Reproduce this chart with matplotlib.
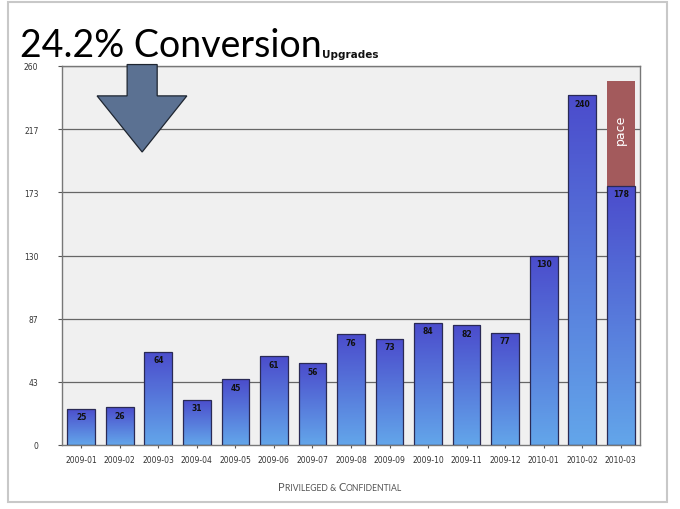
"""
Recreate '24.2% Conversion' upgrades bar chart slide.
"""
import matplotlib
matplotlib.use('Agg')
import matplotlib.pyplot as plt
from matplotlib.patches import Rectangle, Polygon
from matplotlib.offsetbox import TextArea, HPacker, AnnotationBbox
import numpy as np

months = ['2009-01', '2009-02', '2009-03', '2009-04', '2009-05', '2009-06',
          '2009-07', '2009-08', '2009-09', '2009-10', '2009-11', '2009-12',
          '2010-01', '2010-02', '2010-03']
upgrades = [25, 26, 64, 31, 45, 61, 56, 76, 73, 84, 82, 77, 130, 240, 178]
pace_top = 250   # projected month-end value for 2010-03
y_max = 260

fig = plt.figure(figsize=(6.8, 5.1), dpi=100)
fig.patch.set_facecolor('white')

# slide frame
fig.patches.append(Rectangle((8 / 680, 7 / 510), 659 / 680, 500 / 510,
                             transform=fig.transFigure, fill=False,
                             ec='#c8c8c8', lw=1.5))

ax = fig.add_axes([62 / 680, 64 / 510, 578 / 680, 379 / 510])
ax.set_facecolor('#f0f0f0')
ax.set_xlim(-0.5, len(months) - 0.5)
ax.set_ylim(0, y_max)

ticks = np.linspace(0, y_max, 7)
ax.set_yticks(ticks)
ax.set_yticklabels([f'{t:.0f}' for t in ticks], fontsize=5.5, color='#333333')
ax.set_xticks(range(len(months)))
ax.set_xticklabels(months, fontsize=5.5, color='#333333')
ax.tick_params(axis='x', length=2, color='#555555', pad=5)
ax.tick_params(axis='y', length=3, color='#555555', pad=14)
for t in ticks[1:]:
    ax.axhline(t, color='#666666', lw=0.9, zorder=1)
for s in ax.spines.values():
    s.set_color('#777777')
    s.set_linewidth(1.0)

# vertical gradient: dark blue top -> light blue bottom
grad = np.linspace(0, 1, 256).reshape(-1, 1)
cmap = matplotlib.colors.LinearSegmentedColormap.from_list(
    'bars', ['#63a6ea', '#4b4ccc'])
w = 0.72
for i, v in enumerate(upgrades):
    x0 = i - w / 2
    im = ax.imshow(grad, cmap=cmap, origin='lower', aspect='auto',
                   extent=(x0, x0 + w, 0, v), zorder=2)
    rect = Rectangle((x0, 0), w, v, fill=False, ec='#2a2a55', lw=0.9, zorder=3)
    ax.add_patch(rect)
    im.set_clip_path(rect)
    ax.text(i, v - 5.5, str(v), ha='center', va='center', fontsize=5.5,
            fontweight='bold', color='#111111', zorder=4)

# pace extension on last bar
last = len(months) - 1
ax.add_patch(Rectangle((last - w / 2, upgrades[-1]), w, pace_top - upgrades[-1],
                       fc='#a35a5c', ec='none', zorder=2))
ax.text(last, 217, 'pace', rotation=90,
        ha='center', va='center', fontsize=9, color='white', zorder=4)

# down arrow
arrow = Polygon([(1.19, 261), (1.97, 261), (1.97, 239.5), (2.74, 239.5),
                 (1.58, 201), (0.41, 239.5), (1.19, 239.5)],
                closed=True, fc='#5b7192', ec='#1e2530', lw=0.9,
                zorder=5, clip_on=False)
ax.add_patch(arrow)

# title
fig.text(20 / 680, 1 - 57 / 510, '24.2% Conversion', fontsize=27,
         family='Lato', color='black', va='baseline')
fig.text(322 / 680, 1 - 58 / 510, 'Upgrades', fontsize=7.5,
         fontweight='bold', color='#111111', va='baseline')

# footer in small caps
big = dict(size=8, family='Lato', color='#555555')
small = dict(size=6.2, family='Lato', color='#555555')
parts = [TextArea('P', textprops=big), TextArea('RIVILEGED & ', textprops=small),
         TextArea('C', textprops=big), TextArea('ONFIDENTIAL', textprops=small)]
footer = HPacker(children=parts, align='baseline', pad=0, sep=0)
fig.add_artist(AnnotationBbox(footer, (0.5, 1 - 488 / 510),
                              xycoords='figure fraction', frameon=False,
                              box_alignment=(0.5, 0.5)))

plt.savefig('out.png', dpi=100)
plt.close()
